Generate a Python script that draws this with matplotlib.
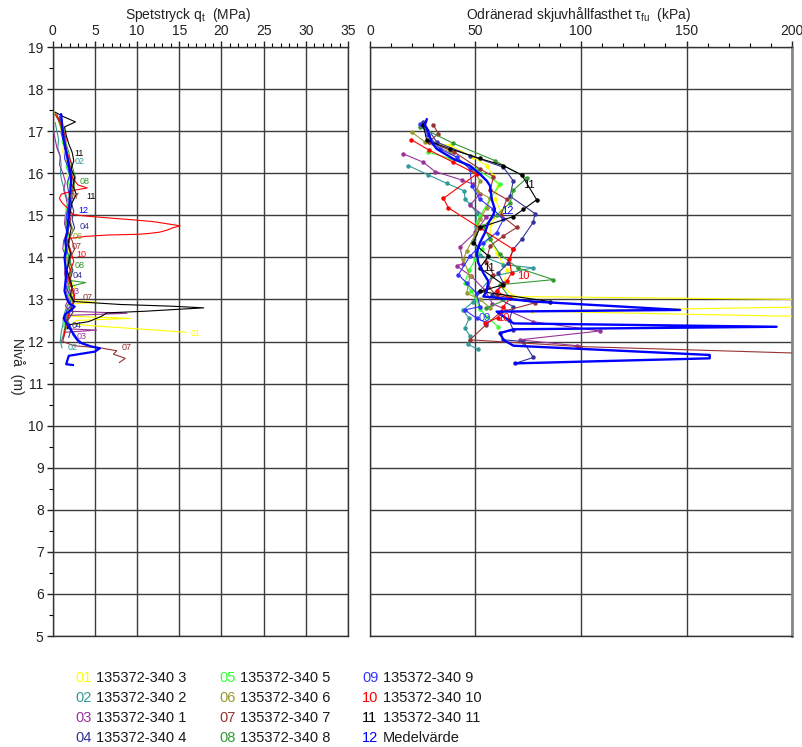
import matplotlib
matplotlib.use("Agg")
import matplotlib.pyplot as plt
from matplotlib.ticker import MultipleLocator
import matplotlib.transforms as mtransforms

plt.rcParams['font.family'] = ['Liberation Sans', 'DejaVu Sans']
plt.rcParams['mathtext.fontset'] = 'custom'
plt.rcParams['mathtext.rm'] = 'Liberation Sans'
plt.rcParams['mathtext.it'] = 'Liberation Sans'

# ---------------- colours / names ----------------
series_ids = ["01", "02", "03", "04", "05", "06", "07", "08", "09", "10", "11", "12"]
series_names = ["135372-340 3", "135372-340 2", "135372-340 1", "135372-340 4",
                "135372-340 5", "135372-340 6", "135372-340 7", "135372-340 8",
                "135372-340 9", "135372-340 10", "135372-340 11", "Medelvärde"]
series_colors = ["#FFFF00", "#339999", "#993399", "#333399", "#33FF33", "#999933",
                 "#993333", "#339933", "#3333FF", "#FF0000", "#000000", "#0000FF"]

# ---------------- left: cone resistance qt (MPa) vs level (m) ----------------
lv01 = [17.45,17.3,17.1,16.9,16.7,16.5,16.3,16.1,15.9,15.7,15.5,15.3,15.1,14.9,14.7,14.5,14.3,14.1,13.9,13.7,13.5,13.3,13.1,12.98,12.93,12.9,12.8,12.7,12.6,12.55,12.5,12.42,12.38,12.22]
qt01 = [0.2,0.6,0.9,1.1,1.3,1.2,1.6,1.8,1.7,2.0,1.8,2.2,1.9,1.7,1.5,1.8,1.6,2.0,1.9,2.3,2.0,2.6,2.3,2.4,5.2,2.6,2.0,2.5,2.2,9.2,2.8,2.3,4.4,15.8]
lv02 = [17.2,17.0,16.8,16.6,16.4,16.2,16.0,15.8,15.6,15.4,15.2,15.0,14.8,14.6,14.4,14.2,14.0,13.8,13.6,13.4,13.2,13.0,12.8,12.6,12.4,12.2,12.0,11.85]
qt02 = [0.3,0.5,0.7,0.6,0.9,1.0,0.9,1.1,1.4,1.7,1.9,1.6,1.5,1.8,1.4,1.6,1.9,1.7,1.5,1.8,2.0,2.2,1.6,1.3,1.2,1.0,0.9,1.1]
lv03 = [17.0,16.8,16.6,16.4,16.2,16.0,15.8,15.6,15.4,15.2,15.0,14.8,14.6,14.4,14.2,14.0,13.8,13.6,13.4,13.2,13.0,12.85,12.72,12.67,12.62,12.5,12.4,12.3,12.27,12.22,12.1,12.0]
qt03 = [0.1,0.3,0.5,0.9,0.8,1.2,1.5,1.3,1.6,1.8,1.5,1.4,1.7,1.3,1.2,1.6,1.5,1.4,1.7,1.6,1.9,1.5,2.0,8.8,1.8,1.4,1.6,1.9,5.2,1.5,1.2,1.0]
lv04 = [17.3,17.1,16.9,16.7,16.5,16.3,16.1,15.9,15.7,15.5,15.3,15.1,14.9,14.7,14.5,14.3,14.1,13.9,13.7,13.5,13.3,13.1,12.9,12.7,12.5,12.3,12.1]
qt04 = [0.8,1.0,1.3,1.5,1.7,1.9,2.1,2.3,2.0,2.4,2.2,2.5,2.3,2.6,2.1,1.9,2.2,2.0,2.4,2.1,2.3,2.5,2.0,2.4,1.8,2.2,1.9]
lv05 = [17.35,17.15,16.95,16.75,16.55,16.35,16.15,15.95,15.75,15.55,15.35,15.15,14.95,14.75,14.55,14.35,14.15,13.95,13.75,13.55,13.35,13.15,12.95,12.75,12.55,12.35]
qt05 = [0.4,1.2,1.4,1.1,1.5,1.8,1.6,2.0,1.9,2.2,1.8,1.6,1.5,1.7,1.9,1.6,1.4,1.8,1.6,1.9,2.0,1.7,2.3,1.9,1.5,1.3]
lv06 = [17.45,17.25,17.05,16.85,16.65,16.45,16.25,16.05,15.85,15.65,15.45,15.25,15.05,14.85,14.65,14.45,14.25,14.05,13.85,13.65,13.45,13.25,13.05,12.85,12.65,12.45,12.25]
qt06 = [0.2,0.7,1.0,1.3,1.4,1.7,2.0,2.2,2.4,2.6,2.3,2.0,1.8,2.1,2.4,2.0,1.7,1.5,1.9,2.2,2.0,1.7,2.1,1.8,1.5,1.9,1.4]
lv07 = [17.4,17.2,17.0,16.8,16.6,16.4,16.2,16.0,15.8,15.6,15.4,15.2,15.0,14.8,14.6,14.4,14.2,14.0,13.8,13.6,13.4,13.2,13.0,12.8,12.6,12.4,12.2,12.0,11.9,11.85,11.78,11.7,11.6,11.5]
qt07 = [0.5,0.9,1.2,1.4,1.6,1.8,2.0,2.2,2.5,2.3,2.1,1.9,2.2,2.0,1.8,2.3,2.6,2.1,1.9,2.2,2.0,2.4,2.6,2.2,1.9,1.6,1.4,1.2,2.5,5.6,7.6,7.2,8.6,7.9]
lv08 = [17.3,17.1,16.9,16.7,16.5,16.3,16.1,15.9,15.7,15.5,15.3,15.1,14.9,14.7,14.5,14.3,14.1,13.9,13.7,13.55,13.45,13.4,13.3,13.1,12.9,12.7,12.5,12.3,12.1]
qt08 = [0.6,1.0,1.3,1.6,1.9,2.1,2.4,2.7,2.5,2.2,2.0,1.8,1.6,1.9,1.7,1.5,1.8,2.1,2.3,1.8,2.0,3.9,1.9,2.2,2.4,1.9,1.6,1.4,1.2]
lv09 = [17.35,17.15,16.95,16.75,16.55,16.35,16.15,15.95,15.75,15.55,15.35,15.15,14.95,14.75,14.55,14.35,14.15,13.95,13.75,13.55,13.35,13.15,12.95,12.75,12.55,12.35,12.15,11.95]
qt09 = [0.8,1.1,1.0,1.3,1.5,1.4,1.8,2.0,1.7,1.9,2.1,1.8,1.6,1.9,1.7,1.5,1.7,1.4,1.6,1.8,1.5,1.9,2.6,1.7,1.5,2.1,2.4,3.2]
lv10 = [17.4,17.2,17.0,16.8,16.6,16.4,16.2,16.0,15.85,15.72,15.65,15.6,15.5,15.4,15.3,15.2,15.1,15.02,14.98,14.94,14.9,14.85,14.8,14.75,14.7,14.65,14.6,14.57,14.55,14.53,14.5,14.45,14.4,14.3,14.1,13.9,13.7,13.5,13.3,13.1,12.9,12.7,12.5,12.3,12.1]
qt10 = [0.3,0.9,1.3,1.6,1.4,1.9,2.3,2.0,2.5,3.0,4.1,2.7,1.0,0.8,1.1,1.6,2.1,2.4,4.0,6.4,9.0,11.9,13.5,15.1,14.2,13.6,12.7,11.5,10.3,6.5,4.0,2.0,1.7,1.9,2.2,2.5,2.1,1.8,2.2,2.6,2.4,2.0,1.7,1.5,1.3]
lv11 = [17.45,17.35,17.22,17.1,16.9,16.7,16.5,16.3,16.1,15.9,15.7,15.5,15.3,15.1,14.9,14.7,14.5,14.3,14.1,13.9,13.7,13.5,13.3,13.1,12.95,12.88,12.84,12.8,12.72,12.68,12.6,12.5,12.47,12.4,12.3]
qt11 = [0.3,1.2,2.7,1.4,1.6,1.9,2.3,2.5,2.2,2.6,2.4,2.8,2.3,2.1,1.9,2.2,2.0,1.8,2.1,1.9,1.7,2.0,2.3,2.1,2.5,8.0,14.0,17.9,11.0,6.4,5.8,4.6,4.2,2.0,1.7]
lv12 = [17.4,17.2,17.0,16.8,16.6,16.4,16.2,16.0,15.8,15.6,15.4,15.2,15.0,14.8,14.6,14.4,14.2,14.0,13.8,13.6,13.4,13.2,13.0,12.9,12.83,12.75,12.65,12.55,12.45,12.35,12.2,12.05,11.96,11.88,11.84,11.76,11.66,11.46,11.44]
qt12 = [1.0,1.1,1.2,1.3,1.5,1.7,1.9,2.1,2.2,2.1,2.0,2.0,1.9,1.8,1.7,1.5,1.6,1.4,1.5,1.6,1.5,1.4,1.7,2.0,2.6,2.2,1.5,1.3,1.6,1.9,2.4,2.9,3.4,4.6,5.6,5.0,1.9,1.6,2.4]

qt_levels = [lv01, lv02, lv03, lv04, lv05, lv06, lv07, lv08, lv09, lv10, lv11, lv12]
qt_values = [qt01, qt02, qt03, qt04, qt05, qt06, qt07, qt08, qt09, qt10, qt11, qt12]

# curve labels on the left panel: (id, qt, level)
qt_label_ids = ["11", "02", "08", "07", "11", "12", "04", "06", "07", "10", "08", "04", "03", "07", "04", "03", "02", "07", "01"]
qt_label_x = [2.6, 2.6, 3.2, 2.0, 4.0, 3.0, 3.2, 2.4, 2.2, 2.8, 2.6, 2.4, 2.0, 3.6, 2.2, 2.8, 1.8, 8.2, 16.3]
qt_label_y = [16.47, 16.27, 15.80, 15.44, 15.44, 15.12, 14.73, 14.50, 14.26, 14.06, 13.80, 13.57, 13.18, 13.04, 12.38, 12.12, 11.85, 11.85, 12.20]

# ---------------- right: undrained shear strength (kPa) vs level (m) ----------------
tl01 = [16.72,16.66,16.38,16.18,15.94,15.70,15.38,15.10,14.80,14.43,14.11,13.71,13.31,13.07,12.98,12.84,12.72,12.57]
tv01 = [30,37.9,49,55.3,58.5,60.8,59.2,62,57,56.9,60,64.8,63.2,67.9,240,230,77,230]
tl02 = [16.18,15.96,15.76,15.58,15.38,15.26,15.06,14.75,14.40,14.05,13.83,13.75,13.55,13.20,12.95,12.74,12.55,12.32,12.13,11.93,11.81]
tv02 = [18.2,27.6,36.3,44.7,45,47.4,50.5,50.2,49,52,63.2,77.3,58,52,49,44.1,47,44.9,47.4,46.5,51.3]
tl03 = [16.46,16.26,16.04,15.84,15.74,15.50,15.24,14.95,14.60,14.25,13.85,13.80,13.55,13.22,12.90,12.47,12.25,12.04,11.90]
tv03 = [15.8,25.3,30.8,43.4,49,52,47.4,55,50,42.7,44.2,41,48,54.5,58,77.3,109,71,98]
tl04 = [17.22,16.74,16.42,16.14,15.82,15.45,15.04,14.84,14.43,14.19,13.87,13.63,13.39,13.10,12.83,12.50,12.27,12.20,12.04,12.00,11.62,11.48]
tv04 = [25.3,31.6,47.4,63.2,67.9,66.4,78.2,77.4,71.9,67.9,65.6,60.8,63.2,58,67.9,66,67.9,61.6,63.2,72.7,77.4,68.7]
tl05 = [16.50,16.35,16.10,15.74,15.40,14.98,14.82,14.50,14.20,13.95,13.70,13.40,13.20,12.99,12.78,12.59,12.35]
tv05 = [27.6,38,50.5,61.6,57,52.1,50.5,56.9,53,50,47,45,48,50.5,52,55.3,60.8]
tl06 = [16.98,16.74,16.50,16.06,15.82,15.58,15.40,15.18,14.90,14.55,14.15,13.95,13.55,13.15,13.00,12.80]
tv06 = [19.7,26.1,37.9,49,52.1,50.5,57,55.3,52,50,45.8,44.2,47.4,45.8,52.1,57]
tl07 = [17.15,16.94,16.75,16.50,16.10,15.92,15.60,15.38,15.00,14.71,14.50,14.27,13.90,13.59,13.30,13.10,12.92,12.70,12.40,12.04,11.88,11.72]
tv07 = [30,32.4,28,40,52.1,58.5,57,64.8,62,69.5,63,56.9,55,58.5,56,60,78.2,62,55,47.4,99.5,205]
tl08 = [17.10,16.71,16.30,15.88,15.60,15.30,15.00,14.74,14.43,14.07,13.75,13.47,13.35,13.03,12.80]
tv08 = [23.7,39.5,59.2,74.2,68,66.4,60,53.7,56.9,61.6,70,86.9,61.6,66.4,55]
tl09 = [17.18,16.90,16.58,16.38,16.10,15.70,15.38,15.14,14.90,14.59,14.35,14.03,13.59,13.39,13.15,12.83,12.75,12.55,12.45]
tv09 = [23.7,27.6,33.2,41.1,47.4,48.2,52.1,58.5,63.2,60,53.7,47.4,41.9,45.8,50.5,52.1,45,50.5,55]
tl10 = [16.80,16.55,16.26,15.98,15.40,15.18,14.70,14.19,13.95,13.63,13.43,13.19,13.03,12.83,12.57,12.43]
tv10 = [19.4,28,39.5,50.5,34.8,37.1,52,67.9,66,67.1,64.8,60,66.4,63.2,60.7,54.5]
tl11 = [17.14,16.78,16.58,16.35,16.18,15.96,15.37,15.14,14.97,14.71,14.35,14.03,13.75,13.35,13.19,12.95]
tv11 = [25.3,26.9,37.9,52.1,63.2,71.9,79.0,72.7,67.9,52.1,49.0,56.1,52.1,63.2,52.1,85.3]
tl12 = [17.28,17.14,16.98,16.74,16.58,16.34,16.18,15.98,15.82,15.70,15.38,15.14,15.02,14.82,14.59,14.35,14.11,13.87,13.63,13.43,13.19,13.07,12.95,12.75,12.71,12.43,12.35,12.29,12.20,12.04,11.90,11.68,11.60,11.48]
tv12 = [26.9,26,27.6,29.2,31.6,39.5,47.4,52.1,55.3,56.9,57.7,59.2,58.5,56.1,54.5,52.1,50.6,51.3,53.7,56.1,55.3,53.7,77.4,147,60,68,192.7,68,61.6,63.2,68,161,161,68.7]

tau_levels = [tl01, tl02, tl03, tl04, tl05, tl06, tl07, tl08, tl09, tl10, tl11, tl12]
tau_values = [tv01, tv02, tv03, tv04, tv05, tv06, tv07, tv08, tv09, tv10, tv11, tv12]

tau_label_ids = ["11", "12", "11", "10", "09", "10"]
tau_label_x = [72.5, 62, 53.5, 69.5, 51.3, 60.4]
tau_label_y = [15.72, 15.10, 13.75, 13.56, 12.55, 12.55]

# ---------------- figure ----------------
fig = plt.figure(figsize=(8.03, 7.47), dpi=100)
ax1 = fig.add_axes([52.7/803, 1-636/747, (348-52.7)/803, (636-47)/747])
ax2 = fig.add_axes([370/803, 1-636/747, (792-370)/803, (636-47)/747])

grid_col = "#3c3c3c"
for ax, xmax, xmaj, xmin in [(ax1, 35, 5, 1), (ax2, 200, 50, 10)]:
    ax.set_xlim(0, xmax)
    ax.set_ylim(5, 19)
    ax.xaxis.tick_top()
    ax.xaxis.set_major_locator(MultipleLocator(xmaj))
    ax.xaxis.set_minor_locator(MultipleLocator(xmin))
    ax.yaxis.set_major_locator(MultipleLocator(1))
    ax.yaxis.set_minor_locator(MultipleLocator(0.5))
    ax.grid(True, which='major', color=grid_col, lw=1.0)
    ax.set_axisbelow(True)
    ax.tick_params(axis='x', which='major', direction='out', length=4, width=1, pad=2.5,
                   labelsize=10, top=True, bottom=False, colors='#222222')
    ax.tick_params(axis='x', which='minor', direction='out', length=3, width=0.8,
                   top=True, bottom=False)
    for s in ax.spines.values():
        s.set_color('#333333')
        s.set_linewidth(1.0)

ax1.tick_params(axis='y', which='major', direction='out', length=4.5, width=1, pad=2,
                labelsize=10, colors='#222222')
ax1.tick_params(axis='y', which='minor', direction='out', length=3, width=0.8)
ax2.tick_params(axis='y', which='both', left=False, labelleft=False)
ax2.spines['right'].set_color('#888888')
ax2.spines['right'].set_linewidth(2)

# keep the last right-panel tick label inside the figure
fig.canvas.draw()
last = ax2.get_xticklabels()[-1]
last.set_transform(last.get_transform() + mtransforms.ScaledTranslation(-3/100, 0, fig.dpi_scale_trans))

# left curves
for i in range(12):
    lw = 1.6 if i == 11 else 0.8
    ax1.plot(qt_values[i], qt_levels[i], color=series_colors[i], lw=lw, zorder=3 + (i == 11))
for k in range(len(qt_label_ids)):
    c = series_colors[series_ids.index(qt_label_ids[k])]
    ax1.text(qt_label_x[k], qt_label_y[k], qt_label_ids[k], color=c, fontsize=6.5,
             va='center', ha='left', zorder=6)

# right curves
for i in range(12):
    if i == 11:
        ax2.plot(tau_values[i], tau_levels[i], color=series_colors[i], lw=1.7, zorder=4)
    else:
        ax2.plot(tau_values[i], tau_levels[i], color=series_colors[i], lw=0.8,
                 marker='o', ms=2.2, zorder=3)
for k in range(len(tau_label_ids)):
    c = series_colors[series_ids.index(tau_label_ids[k])]
    ax2.text(tau_label_x[k], tau_label_y[k], tau_label_ids[k], color=c, fontsize=8,
             va='center', ha='left', zorder=6)

# titles
fig.text(188/803, 1-15/747, r'Spetstryck q$_{\mathrm{t}}$  (MPa)', ha='center', va='center',
         fontsize=10, color='#222222')
fig.text(578/803, 1-15/747, r'Odränerad skjuvhållfasthet $\tau_{\mathrm{fu}}$  (kPa)',
         ha='center', va='center', fontsize=10, color='#222222')
fig.text(17/803, 1-366/747, 'Nivå  (m)', rotation=270, ha='center', va='center',
         fontsize=10, color='#222222')

# legend
col_num_x = [75, 219, 362]
col_txt_x = [96.5, 239.5, 383]
row_y = [678, 698, 718, 737.5]
for i in range(12):
    col, row = divmod(i, 4)
    fig.text(col_num_x[col]/803, 1-row_y[row]/747, series_ids[i], color=series_colors[i],
             fontsize=10.5, ha='left', va='center')
    fig.text(col_txt_x[col]/803, 1-row_y[row]/747, series_names[i], color='#1a1a1a',
             fontsize=10.5, ha='left', va='center')

fig.savefig("out.png", dpi=100)
